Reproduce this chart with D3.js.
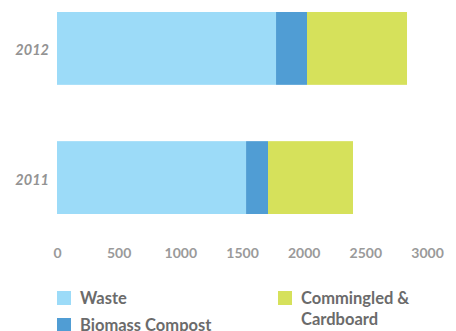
<!DOCTYPE html>
<html>
<head>
<meta charset="utf-8">
<script src="https://cdn.jsdelivr.net/npm/d3@7"></script>
<style>
  html, body { margin: 0; padding: 0; background: #fff; }
  svg { display: block; font-family: Lato, "Open Sans", sans-serif; }
</style>
</head>
<body>
<svg id="chart" width="456" height="331"></svg>
<script>
// Waste diverted per year (stacked)
const years = ["2012", "2011"];
const seriesNames = ["Waste", "Biomass Compost", "Commingled & Cardboard"];
const waste = [1776, 1533];
const biomassCompost = [251, 178];
const commingledCardboard = [811, 689];
const xTicks = [0, 500, 1000, 1500, 2000, 2500, 3000];
const colors = ["#9cdbf8", "#509dd4", "#d6e15b"];

const rows = years.map((y, i) => ({
  year: y,
  "Waste": waste[i],
  "Biomass Compost": biomassCompost[i],
  "Commingled & Cardboard": commingledCardboard[i]
}));

const svg = d3.select("#chart");
const x = d3.scaleLinear().domain([0, 3000]).range([57, 427]);
const y = d3.scaleBand().domain(years).range([12, 214]).paddingInner(0.436).paddingOuter(0);

const stack = d3.stack().keys(seriesNames)(rows);

svg.append("g").selectAll("g")
  .data(stack)
  .join("g")
  .attr("fill", (d, i) => colors[i])
  .selectAll("rect")
  .data(d => d)
  .join("rect")
  .attr("x", d => x(d[0]))
  .attr("width", d => x(d[1]) - x(d[0]))
  .attr("y", d => y(d.data.year))
  .attr("height", y.bandwidth());

// Year labels
svg.append("g").selectAll("text")
  .data(years)
  .join("text")
  .attr("x", 49)
  .attr("y", d => y(d) + y.bandwidth() / 2 + 2)
  .attr("dy", "0.35em")
  .attr("text-anchor", "end")
  .attr("font-size", 14.5)
  .attr("font-weight", "bold")
  .attr("font-style", "italic")
  .attr("fill", "#939393")
  .text(d => d);

// Bottom axis (labels only)
const axis = d3.axisBottom(x).tickValues(xTicks).tickFormat(d3.format("d")).tickSize(0).tickPadding(0);
const gx = svg.append("g").attr("transform", "translate(0,248)").call(axis);
gx.select(".domain").remove();
gx.selectAll("text")
  .attr("font-size", 14)
  .attr("font-weight", "bold")
  .attr("font-family", "Lato, sans-serif")
  .attr("fill", "#9a9a9a");

// Legend
const legend = [
  { name: "Waste", lines: ["Waste"], x: 57, y: 291 },
  { name: "Biomass Compost", lines: ["Biomass Compost"], x: 57, y: 318 },
  { name: "Commingled & Cardboard", lines: ["Commingled &", "Cardboard"], x: 278, y: 291 }
];
const lg = svg.append("g").selectAll("g")
  .data(legend)
  .join("g")
  .attr("transform", d => `translate(${d.x},${d.y})`);
lg.append("rect")
  .attr("width", 14).attr("height", 14)
  .attr("fill", d => colors[seriesNames.indexOf(d.name)]);
lg.append("text")
  .attr("x", 23)
  .attr("y", 13)
  .attr("font-size", 16.5)
  .attr("font-weight", "bold")
  .attr("fill", "#6b6b6b")
  .selectAll("tspan")
  .data(d => d.lines)
  .join("tspan")
  .attr("x", 23)
  .attr("dy", (d, i) => i === 0 ? 0 : 21)
  .text(d => d);
</script>
</body>
</html>
